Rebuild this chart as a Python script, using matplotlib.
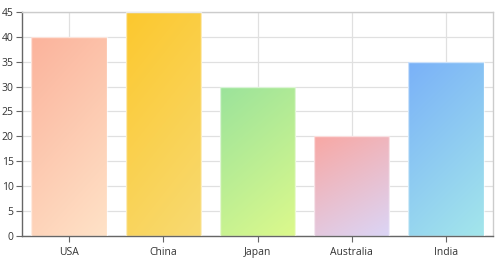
import matplotlib.pyplot as plt
import matplotlib.colors as mcolors
import numpy as np

countries = ['USA', 'China', 'Japan', 'Australia', 'India']
values = [40, 45, 30, 20, 35]
grad_top = ['#fbb39c', '#fcc82e', '#9be39b', '#f8a8a4', '#7ab1f8']
grad_bottom = ['#ffe2c7', '#f8da72', '#dcf98c', '#dbd5f6', '#a3e6eb']

plt.rcParams['font.family'] = ['Open Sans', 'DejaVu Sans']

fig = plt.figure(figsize=(5, 2.64), dpi=100)
ax = fig.add_axes([0.044, 0.106, 0.942, 0.849])

x = np.arange(len(countries))
bars = ax.bar(x, values, width=0.8, color='none', edgecolor=(1, 1, 1, 0.6),
              linewidth=1, zorder=3)

# diagonal gradient, clipped to each bar
n = 64
u, v = np.meshgrid(np.linspace(0, 1, n), np.linspace(0, 1, n))
t = np.clip(0.3 * u + 0.7 * v, 0, 1)
for b, c0, c1 in zip(bars, grad_top, grad_bottom):
    a0 = np.array(mcolors.to_rgb(c0))
    a1 = np.array(mcolors.to_rgb(c1))
    img = a0[None, None, :] * (1 - t[..., None]) + a1[None, None, :] * t[..., None]
    x0 = b.get_x()
    im = ax.imshow(img, extent=[x0, x0 + b.get_width(), 0, b.get_height()],
                   origin='upper', aspect='auto', zorder=2, interpolation='bilinear')
    im.set_clip_path(b)

ax.set_xlim(-0.5, 4.5)
ax.set_ylim(0, 45)
ax.set_yticks(range(0, 46, 5))
ax.set_xticks(x)
ax.set_xticklabels(countries)

ax.grid(True, color='#e0e0e0', linewidth=0.9, zorder=0)
ax.set_axisbelow(True)

for s in ['top', 'right']:
    ax.spines[s].set_color('#cccccc')
    ax.spines[s].set_linewidth(1)
for s in ['left', 'bottom']:
    ax.spines[s].set_color('#666666')
    ax.spines[s].set_linewidth(1)

ax.tick_params(axis='both', labelsize=7.5, colors='#333333', length=4, width=0.8,
               pad=2)
ax.tick_params(axis='x', pad=4, color='#666666')
ax.tick_params(axis='y', color='#666666')

fig.savefig('out.png', dpi=100)
